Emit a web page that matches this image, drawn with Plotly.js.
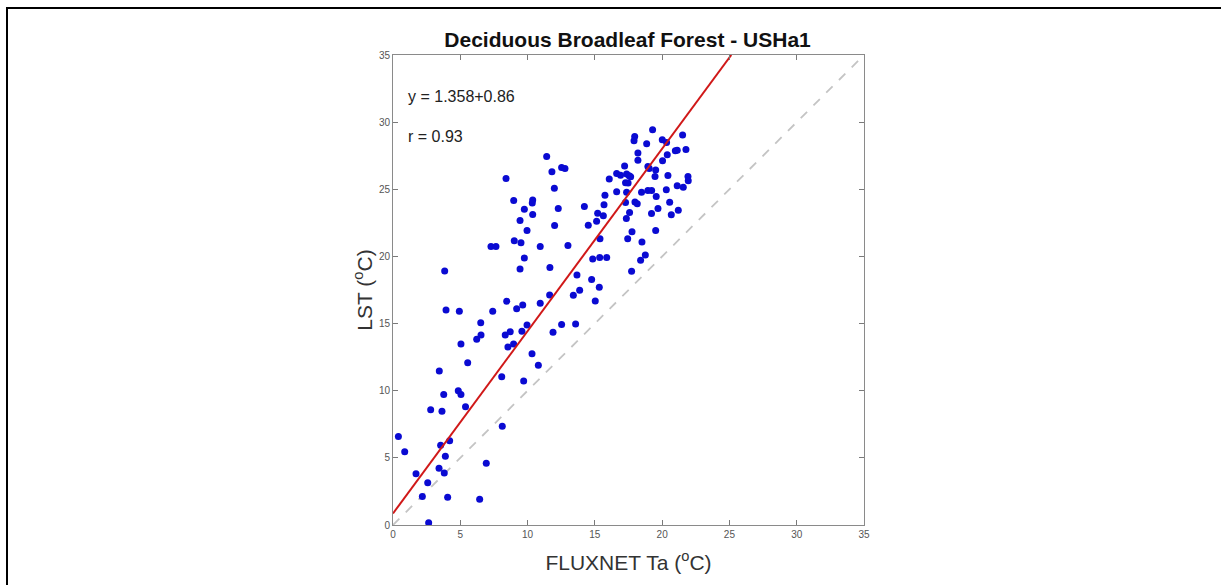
<!DOCTYPE html>
<html>
<head>
<meta charset="utf-8">
<script src="https://cdn.plot.ly/plotly-3.0.1.min.js"></script>
<style>
  html, body { margin: 0; padding: 0; background: #fff; overflow: hidden; }
  #frame { position: absolute; left: 6px; top: 7px; width: 1213px; height: 576px;
           border-left: 2.5px solid #000; border-top: 2.5px solid #000; pointer-events: none; }
  #chart { width: 1221px; height: 585px; }
</style>
</head>
<body>
<div id="chart"></div>
<div id="frame"></div>
<script>
// Observed points: FLUXNET air temperature (x) vs LST (y), degrees C
const taValues = [
  8.40, 11.42, 11.81, 12.53, 12.78, 11.99, 8.97, 9.76, 10.38, 10.35, 10.38, 12.28,
  9.44, 9.96, 12.01, 9.01, 9.51, 7.28, 7.65, 10.94, 9.76, 9.44, 11.66, 3.84,
  8.45, 11.64, 10.94, 9.19, 9.64, 3.94, 4.93, 7.41, 6.52, 9.96, 6.22, 6.54,
  8.34, 8.71, 9.58, 11.89, 5.05, 8.54, 8.96, 10.33, 5.55,
  10.80, 3.44, 8.08, 9.71, 3.77, 4.85, 5.05, 5.39, 2.80, 3.64, 8.12, 0.40,
  4.21, 3.54, 0.87, 3.89, 6.93, 3.42, 3.81, 1.71, 2.58, 2.18, 4.06, 6.44, 2.65,
  19.29, 17.96, 17.91, 18.85, 20.01, 20.33, 21.52, 18.20, 18.20, 20.98, 21.12,
  21.77, 20.38, 20.03, 18.94, 19.04, 19.52, 17.21, 16.62, 16.91, 17.36, 17.55,
  17.66, 16.07, 17.28, 17.47, 19.47, 20.43, 21.92, 21.94, 21.12, 21.57, 20.31,
  16.62, 17.36, 18.47, 18.94, 19.22, 19.56, 15.75, 15.68, 14.22, 17.28, 17.98,
  18.15, 20.56, 19.69, 15.21, 15.63, 17.58, 19.21, 20.68, 21.20,
  15.13, 14.51, 17.34, 17.76, 19.52, 13.00, 15.38, 17.44, 18.50, 14.84, 15.36,
  15.88, 18.75, 18.40, 17.73, 13.67, 14.76, 15.33, 13.87, 13.40, 15.03, 12.53, 13.57
];
const lstValues = [
  25.81, 27.45, 26.30, 26.63, 26.55, 25.08, 24.17, 23.52, 24.21, 23.97, 23.13, 23.57,
  22.67, 21.93, 22.30, 21.16, 21.01, 20.74, 20.74, 20.74, 19.89, 19.07, 19.17, 18.92,
  16.66, 17.13, 16.51, 16.11, 16.38, 16.01, 15.91, 15.91, 15.07, 14.89, 13.83, 14.15,
  14.15, 14.40, 14.42, 14.35, 13.48, 13.25, 13.48, 12.76, 12.09,
  11.89, 11.46, 11.04, 10.72, 9.72, 10.00, 9.72, 8.81, 8.58, 8.48, 7.36, 6.59,
  6.27, 5.94, 5.45, 5.12, 4.60, 4.23, 3.88, 3.81, 3.14, 2.12, 2.07, 1.92, 0.16,
  29.43, 28.94, 28.61, 28.39, 28.69, 28.49, 29.04, 27.70, 27.17, 27.87, 27.90,
  27.97, 27.57, 27.12, 26.70, 26.55, 26.43, 26.73, 26.18, 26.05, 26.13, 26.00,
  25.93, 25.76, 25.48, 25.46, 25.96, 26.03, 25.96, 25.63, 25.26, 25.16, 24.96,
  24.81, 24.77, 24.77, 24.91, 24.91, 24.47, 24.56, 23.84, 23.72, 24.02, 24.06,
  23.92, 24.04, 23.57, 23.22, 23.02, 23.27, 23.20, 23.10, 23.44,
  22.62, 22.33, 22.83, 21.83, 21.93, 20.81, 21.31, 21.31, 21.08, 19.81, 19.92,
  19.92, 20.11, 19.72, 18.90, 18.62, 18.28, 17.70, 17.48, 17.11, 16.68, 14.94, 14.97
];

// Regression fit parameters (as drawn)
const fitSlope = 1.358;
const fitIntercept = 0.86;
const fitR = 0.93;
const axisMin = 0, axisMax = 35;
const tickValues = [0, 5, 10, 15, 20, 25, 30, 35];

const fitXEnd = (axisMax - fitIntercept) / fitSlope;
const fitX = [axisMin, fitXEnd];
const fitY = fitX.map(v => fitIntercept + fitSlope * v);

const FONT = 'Arial, Liberation Sans, sans-serif';

const traces = [
  { x: [axisMin, axisMax], y: [axisMin, axisMax], mode: 'lines', type: 'scatter',
    line: { color: '#c4c4c4', width: 1.8, dash: 'dash' }, hoverinfo: 'skip', showlegend: false },
  { x: taValues, y: lstValues, mode: 'markers', type: 'scatter',
    marker: { color: '#0a0ad2', size: 7 }, showlegend: false },
  { x: fitX, y: fitY, mode: 'lines', type: 'scatter',
    line: { color: '#d01818', width: 2 }, showlegend: false }
];

const axisCommon = {
  range: [axisMin, axisMax], tickvals: tickValues, ticktext: tickValues.map(String),
  ticks: 'inside', ticklen: 5, tickcolor: '#7a7a7a', tickwidth: 1,
  showline: true, linecolor: '#8a8a8a', linewidth: 1, mirror: 'ticks',
  showgrid: false, zeroline: false,
  tickfont: { family: FONT, size: 10, color: '#555' }
};

const layout = {
  width: 1221, height: 585,
  margin: { l: 393, r: 357, t: 55, b: 60, pad: 0 },
  paper_bgcolor: '#fff', plot_bgcolor: '#fff',
  title: { text: '<b>Deciduous Broadleaf Forest - USHa1</b>', x: 0.498, xref: 'paper',
           y: 0.933, yref: 'container', yanchor: 'middle',
           font: { family: FONT, size: 21, color: '#111' } },
  xaxis: Object.assign({}, axisCommon, {
    title: { text: 'FLUXNET Ta (<sup>o</sup>C)', standoff: 16,
             font: { family: FONT, size: 21, color: '#333' } }
  }),
  yaxis: Object.assign({}, axisCommon, {
    title: { text: 'LST (<sup>o</sup>C)', standoff: 0,
             font: { family: FONT, size: 21, color: '#333' } }
  }),
  annotations: [
    { text: 'y = ' + fitSlope.toFixed(3) + '+' + fitIntercept.toFixed(2), xref: 'paper', yref: 'paper',
      x: 0.027, y: 0.911, xanchor: 'left', yanchor: 'middle', showarrow: false,
      font: { family: FONT, size: 16, color: '#222' } },
    { text: 'r = ' + fitR.toFixed(2), xref: 'paper', yref: 'paper',
      x: 0.027, y: 0.826, xanchor: 'left', yanchor: 'middle', showarrow: false,
      font: { family: FONT, size: 16, color: '#222' } }
  ]
};

Plotly.newPlot('chart', traces, layout, { displayModeBar: false, staticPlot: true });
</script>
</body>
</html>
